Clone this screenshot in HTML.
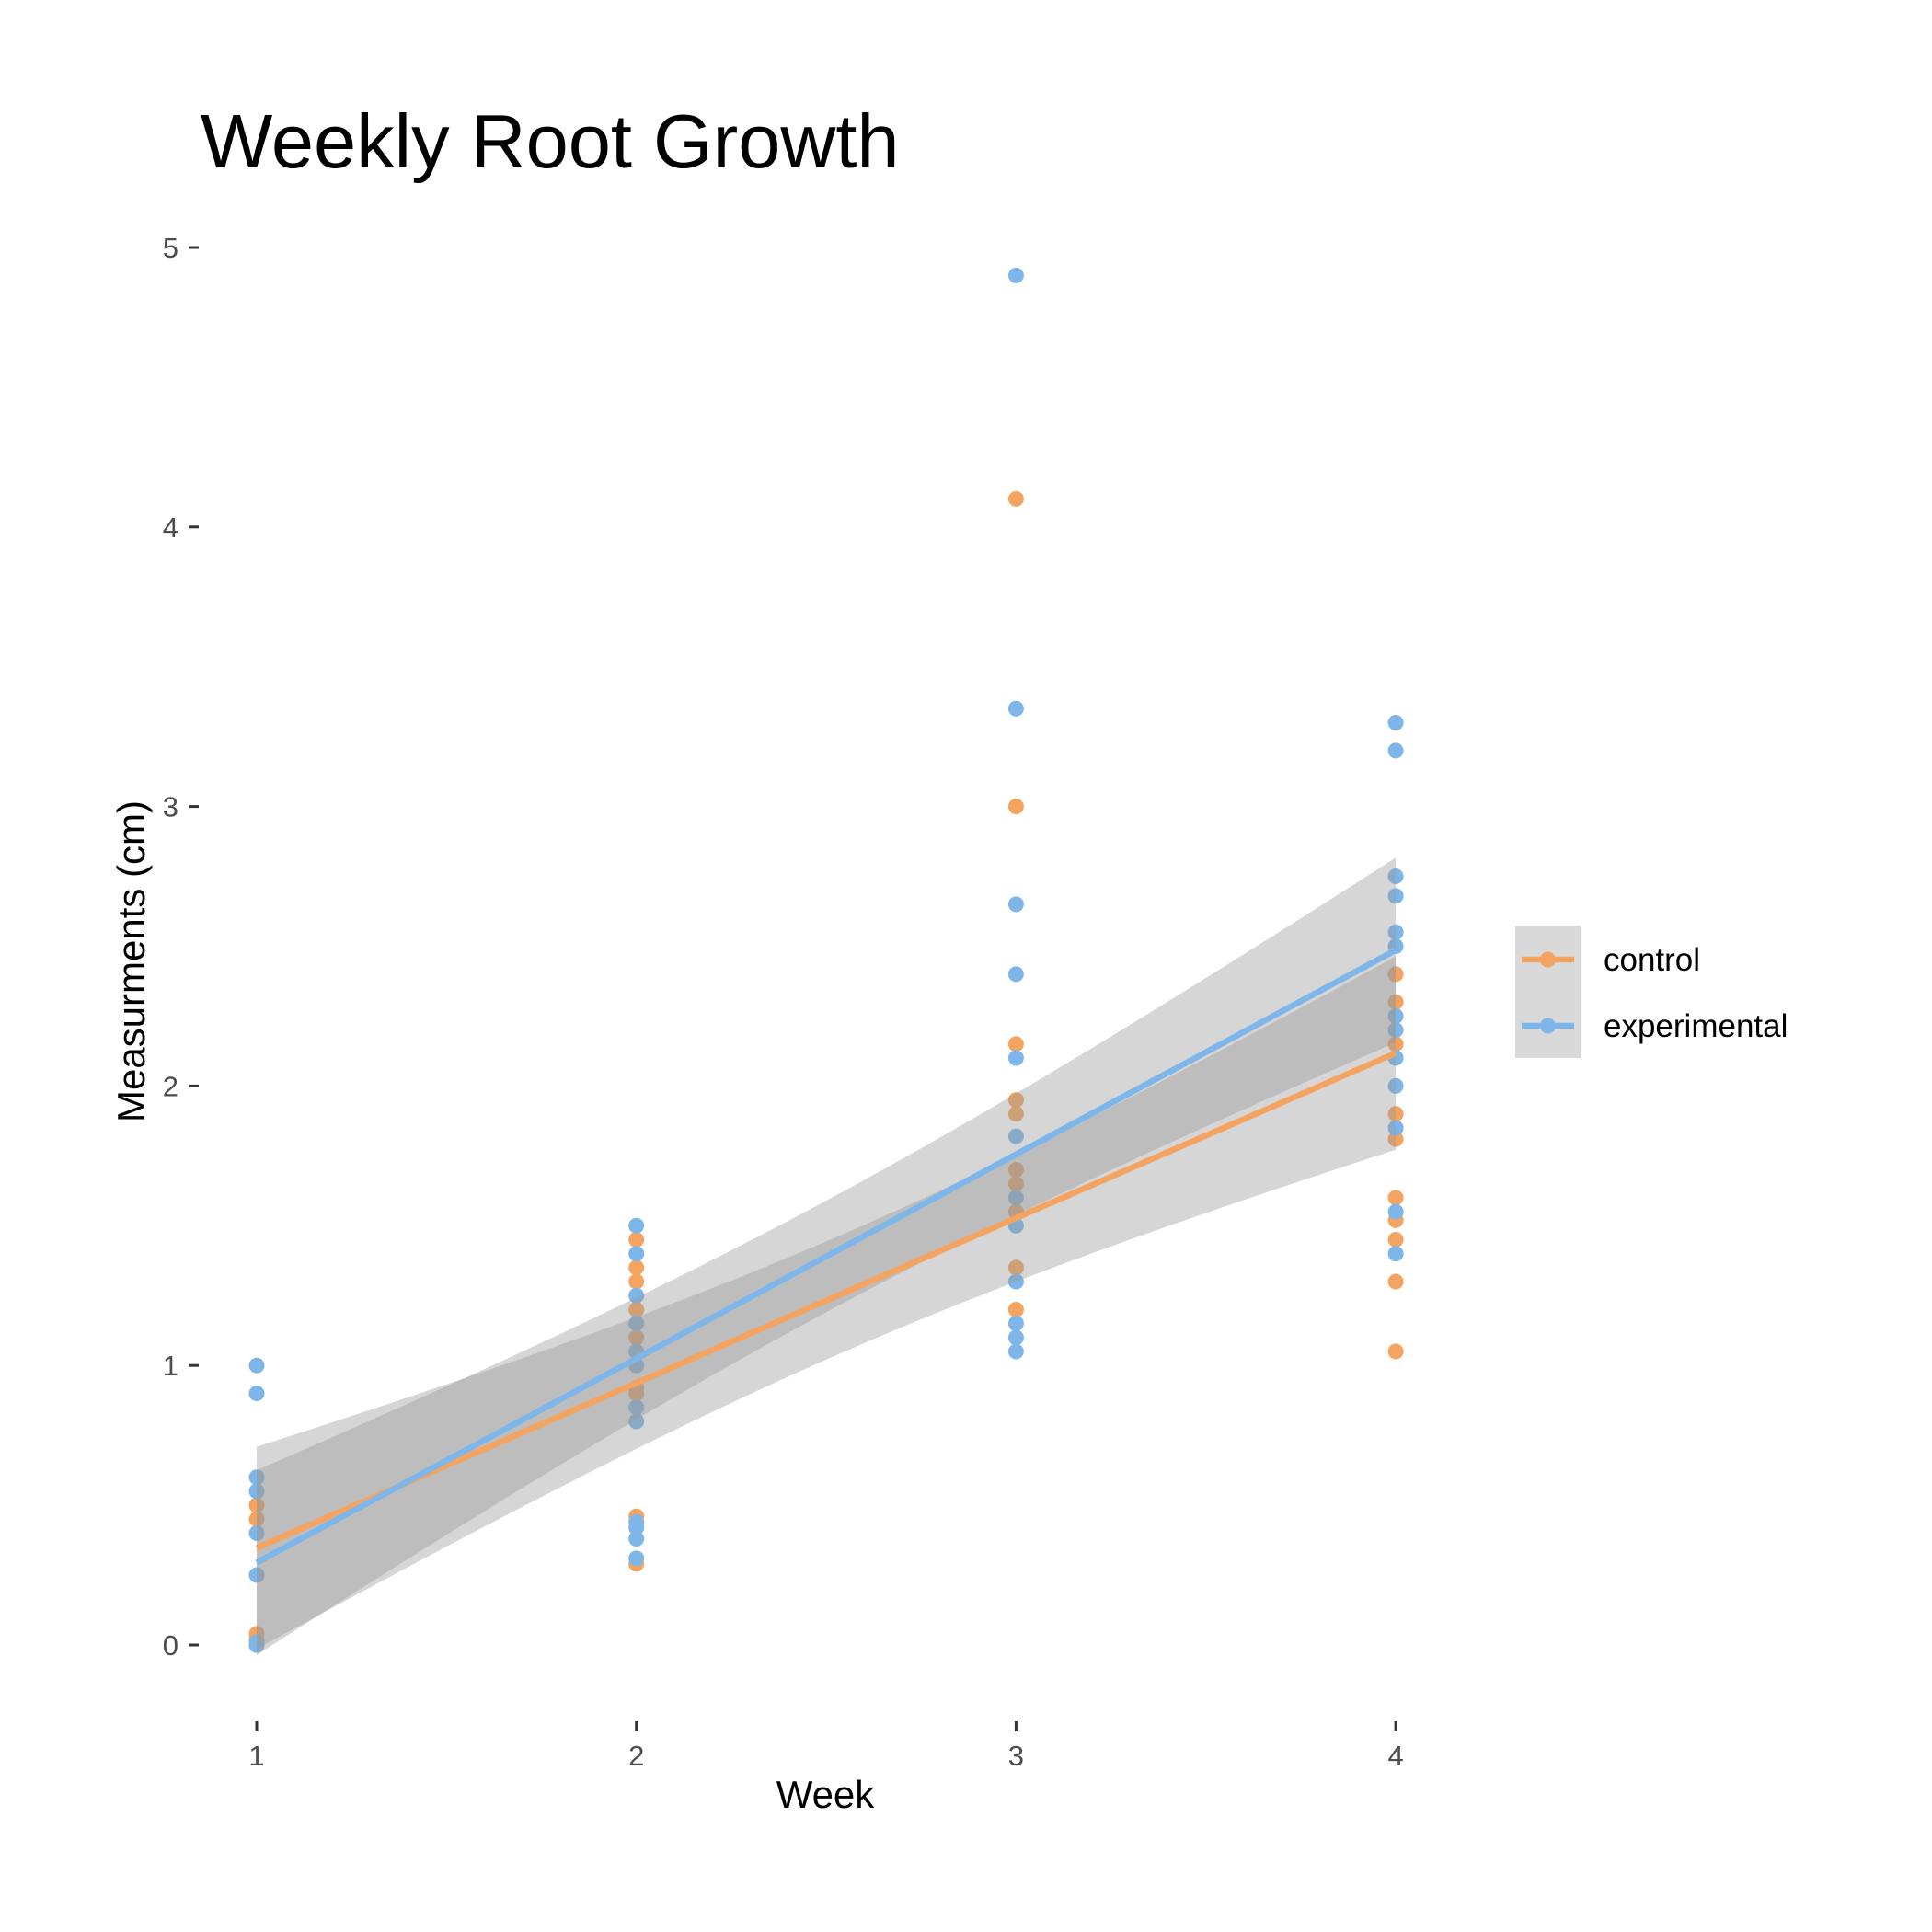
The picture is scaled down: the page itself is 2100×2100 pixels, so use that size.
<!DOCTYPE html>
<html><head><meta charset="utf-8"><style>
html,body{margin:0;padding:0;background:#fff;}
svg{display:block;font-family:"Liberation Sans",Arial,sans-serif;}
</style></head><body>
<svg id="chart" width="2100" height="2100" viewBox="0 0 2100 2100">
<text x="218" y="182" font-size="83" fill="#000">Weekly Root Growth</text>
<g id="yaxis"></g>
<g id="xaxis"></g>
<g id="points"></g>
<g id="bands"></g>
<g id="lines"></g>
<text x="897" y="1965" font-size="42" text-anchor="middle" fill="#000">Week</text>
<text transform="translate(157,1045) rotate(-90)" font-size="42" text-anchor="middle" fill="#000">Measurments (cm)</text>
<g>
<rect x="1647" y="1006" width="71" height="144" fill="#d9d9d9"/>
<g>
<line x1="1654" y1="1043" x2="1711" y2="1043" stroke="#F4A460" stroke-width="6.5"/>
<circle cx="1682.5" cy="1043" r="8.5" fill="#F4A460"/>
<text x="1743" y="1055" font-size="35" fill="#000">control</text></g>
<g>
<line x1="1654" y1="1115" x2="1711" y2="1115" stroke="#7EB6EA" stroke-width="6.5"/>
<circle cx="1682.5" cy="1115" r="8.5" fill="#7EB6EA"/>
<text x="1743" y="1127" font-size="35" fill="#000">experimental</text></g>
</g>
</svg>
<script>
const weeks=[1,2,3,4];
const yTicks=[0,1,2,3,4,5];
const controlW1=[0.5,0.45,0.04,0.02,0.0,0.0,0.0,0.0,0.0];
const controlW2=[1.45,1.35,1.3,1.2,1.1,0.92,0.9,0.46,0.29];
const controlW3=[4.1,3.0,2.15,1.95,1.9,1.7,1.65,1.55,1.35,1.2];
const controlW4=[2.4,2.3,2.15,1.9,1.81,1.6,1.52,1.45,1.3,1.05];
const expW1=[1.0,0.9,0.6,0.55,0.4,0.25,0.01,0.0,0.0,0.0,0.0,0.0,0.0];
const expW2=[1.5,1.4,1.25,1.15,1.05,1.0,0.85,0.8,0.44,0.42,0.38,0.31];
const expW3=[4.9,3.35,2.65,2.4,2.1,1.82,1.6,1.5,1.3,1.15,1.1,1.05];
const expW4=[3.3,3.2,2.75,2.68,2.55,2.5,2.25,2.2,2.1,2.0,1.85,1.55,1.4];

const NS="http://www.w3.org/2000/svg";
const x=w=>279+(w-1)*412.7;
const y=v=>1788-v*303.8;
function mk(tag,attrs,parent){const e=document.createElementNS(NS,tag);for(const k in attrs)e.setAttribute(k,attrs[k]);parent.appendChild(e);return e;}

const ya=document.getElementById('yaxis');
yTicks.forEach(t=>{
  const l=mk('line',{x1:205,x2:216,y1:y(t),y2:y(t),stroke:'#333','stroke-width':3},ya);
  
  
  const tx=mk('text',{x:194,y:y(t)+11,'font-size':31,'text-anchor':'end',fill:'#4d4d4d'},ya);
  tx.textContent=t;
  
  
});
const xa=document.getElementById('xaxis');
weeks.forEach(w=>{
  const l=mk('line',{x1:x(w),x2:x(w),y1:1871,y2:1882,stroke:'#333','stroke-width':3},xa);
  
  
  const tx=mk('text',{x:x(w),y:1919,'font-size':31,'text-anchor':'middle',fill:'#4d4d4d'},xa);
  tx.textContent=w;
  
  
});

const series=[
 {name:'control',color:'#F4A460',data:[controlW1,controlW2,controlW3,controlW4]},
 {name:'experimental',color:'#7EB6EA',data:[expW1,expW2,expW3,expW4]}
];
const pg=document.getElementById('points');
series.forEach(s=>{
  s.data.forEach((arr,i)=>arr.forEach(v=>{
    const c=mk('circle',{cx:x(weeks[i]),cy:y(v),r:8.5,fill:s.color},pg);
    
    
  }));
});

const bg=document.getElementById('bands'), lg=document.getElementById('lines');
series.forEach(s=>{
  const xs=[],ys=[];
  s.data.forEach((arr,i)=>arr.forEach(v=>{xs.push(weeks[i]);ys.push(v);}));
  const n=xs.length,mx=xs.reduce((a,b)=>a+b)/n,my=ys.reduce((a,b)=>a+b)/n;
  let sxx=0,sxy=0;for(let i=0;i<n;i++){sxx+=(xs[i]-mx)**2;sxy+=(xs[i]-mx)*(ys[i]-my);}
  const b=sxy/sxx,a=my-b*mx;
  let sse=0;for(let i=0;i<n;i++)sse+=(ys[i]-a-b*xs[i])**2;
  const s2=sse/(n-2),t=2.02;
  const up=[],lo=[];
  for(let k=0;k<=80;k++){const w=1+3*k/80;const f=a+b*w;const se=Math.sqrt(s2*(1/n+(w-mx)**2/sxx));
    up.push(x(w)+','+y(f+t*se));lo.unshift(x(w)+','+y(f-t*se));}
  const p=mk('polygon',{points:up.concat(lo).join(' '),fill:'#999','fill-opacity':0.4},bg);
  
  
  const l=mk('line',{x1:x(1),y1:y(a+b),x2:x(4),y2:y(a+4*b),stroke:s.color,'stroke-width':6.5},lg);
  
  
});
</script>
</body></html>
